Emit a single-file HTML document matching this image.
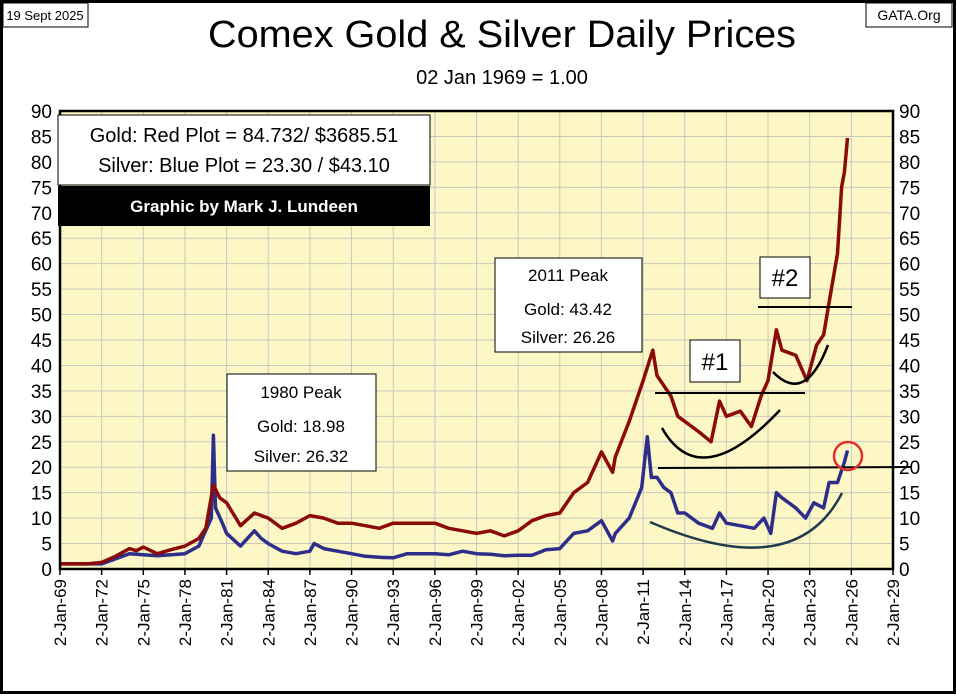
<!DOCTYPE html>
<html><head><meta charset="utf-8"><style>
body{margin:0;background:#fff}
svg text{font-family:"Liberation Sans",sans-serif}
</style></head><body>
<svg width="956" height="694" viewBox="0 0 956 694" xmlns="http://www.w3.org/2000/svg">
<rect x="1.5" y="1.5" width="953" height="691" fill="#fff" stroke="#000" stroke-width="3"/>
<rect x="3" y="3" width="85" height="24" fill="#fff" stroke="#000"/>
<text x="45" y="20" font-size="13" text-anchor="middle" font-family="Liberation Serif">19 Sept 2025</text>
<rect x="866" y="3" width="86" height="24" fill="#fff" stroke="#000"/>
<text x="909" y="20" font-size="14" text-anchor="middle" font-family="Liberation Serif">GATA.Org</text>
<text x="502" y="47" font-size="38" text-anchor="middle" textLength="588" lengthAdjust="spacingAndGlyphs">Comex Gold &amp; Silver Daily Prices</text>
<text x="502" y="84" font-size="20" text-anchor="middle">02 Jan 1969 = 1.00</text>
<rect x="60" y="111" width="833" height="458" fill="#fdf7c6"/>
<g id="grid"></g>
<g id="axes"></g>
<g id="series"></g>
<rect x="60" y="111" width="833" height="458" fill="none" stroke="#000" stroke-width="2.5"/>
<g id="annot">
<rect x="58" y="115" width="372" height="70" fill="#fff" stroke="#000"/>
<text x="244" y="142" font-size="20" text-anchor="middle">Gold: Red Plot =  84.732/ $3685.51</text>
<text x="244" y="172" font-size="20" text-anchor="middle">Silver: Blue Plot = 23.30 / $43.10</text>
<rect x="58" y="186" width="372" height="40" fill="#000"/>
<text x="244" y="212" font-size="17" font-weight="bold" fill="#fff" text-anchor="middle" font-family="Liberation Serif">Graphic by Mark J. Lundeen</text>
<rect x="227" y="374" width="149" height="97" fill="#fff" stroke="#000"/>
<text x="301" y="398" font-size="17" text-anchor="middle">1980 Peak</text>
<text x="301" y="432" font-size="17" text-anchor="middle">Gold:  18.98</text>
<text x="301" y="462" font-size="17" text-anchor="middle">Silver: 26.32</text>
<rect x="495" y="258" width="147" height="94" fill="#fff" stroke="#000"/>
<text x="568" y="281" font-size="17" text-anchor="middle">2011 Peak</text>
<text x="568" y="315" font-size="17" text-anchor="middle">Gold:  43.42</text>
<text x="568" y="343" font-size="17" text-anchor="middle">Silver: 26.26</text>
<rect x="690" y="340" width="50" height="42" fill="#fff" stroke="#000"/>
<text x="715" y="370" font-size="24" text-anchor="middle">#1</text>
<rect x="760" y="257" width="50" height="41" fill="#fff" stroke="#000"/>
<text x="785" y="286" font-size="24" text-anchor="middle">#2</text>
<line x1="655" y1="393" x2="805" y2="393" stroke="#000" stroke-width="2"/>
<line x1="758" y1="307" x2="852" y2="307" stroke="#000" stroke-width="2"/>
<line x1="658" y1="468" x2="912" y2="467" stroke="#000" stroke-width="2"/>
<path d="M662,428 Q700,495 780,410" fill="none" stroke="#000" stroke-width="2.5"/>
<path d="M773,372 Q805,405 828,345" fill="none" stroke="#000" stroke-width="2.5"/>
<path d="M650,522 Q795,585 842,493" fill="none" stroke="#1f3b4d" stroke-width="2.5"/>
<circle cx="848" cy="456" r="14" fill="none" stroke="#e03030" stroke-width="2.5"/>
</g>
</svg>
<script>
const goldYears=[1969,1971,1972,1973,1974,1974.5,1975,1976,1977,1978,1979,1979.5,1980.05,1980.5,1981,1982,1983,1984,1985,1986,1987,1988,1989,1990,1991,1992,1993,1994,1996,1997,1998,1999,2000,2001,2002,2003,2004,2005,2006,2007,2008,2008.8,2009,2010,2011,2011.7,2012,2013,2013.5,2014,2015,2015.9,2016.5,2017,2018,2018.8,2019.5,2020,2020.6,2021,2022,2022.8,2023.5,2024,2024.5,2025,2025.3,2025.5,2025.72];
const goldValues=[1,1,1.3,2.5,4,3.6,4.3,3,3.8,4.5,6,8,16.5,14,13,8.5,11,10,8,9,10.5,10,9,9,8.5,8,9,9,9,8,7.5,7,7.5,6.5,7.5,9.5,10.5,11,15,17,23,19,22,29,37,43,38,34,30,29,27,25,33,30,31,28,34,37,47,43,42,37,44,46,54,62,75,78,84.7];
const silverYears=[1969,1972,1973,1974,1975,1976,1977,1978,1979,1979.9,1980.05,1980.2,1980.7,1981,1982,1983,1983.5,1984,1985,1986,1987,1987.3,1988,1989,1990,1991,1992,1993,1994,1996,1997,1998,1999,2000,2001,2002,2003,2004,2005,2006,2007,2008,2008.8,2009,2010,2010.9,2011.3,2011.6,2012,2012.5,2013,2013.5,2014,2015,2016,2016.5,2017,2018,2019,2019.7,2020.2,2020.6,2021,2022,2022.7,2023.3,2024,2024.4,2025,2025.5,2025.72];
const silverValues=[1,1,2,3,2.8,2.6,2.8,3,4.5,10,26.3,12,9,7,4.5,7.5,6,5,3.5,3,3.5,5,4,3.5,3,2.5,2.3,2.2,3,3,2.8,3.5,3,2.9,2.6,2.7,2.7,3.8,4,7,7.5,9.5,5.5,7,10,16,26,18,18,16,15,11,11,9,8,11,9,8.5,8,10,7,15,14,12,10,13,12,17,17,21,23.3];
const yTicks=[0,5,10,15,20,25,30,35,40,45,50,55,60,65,70,75,80,85,90];
const xTickYears=[1969,1972,1975,1978,1981,1984,1987,1990,1993,1996,1999,2002,2005,2008,2011,2014,2017,2020,2023,2026,2029];
const NS='http://www.w3.org/2000/svg';
const X0=60,X1=893,Y0=569,Y1=111;
const xs=y=>X0+(y-1969)/(2029-1969)*(X1-X0);
const ys=v=>Y0-v/90*(Y0-Y1);
function mk(tag,attrs,parent){const e=document.createElementNS(NS,tag);for(const k in attrs)e.setAttribute(k,attrs[k]);document.getElementById(parent).appendChild(e);return e;}
yTicks.forEach(v=>{
  const g=mk('line',{x1:X0,x2:X1,y1:ys(v),y2:ys(v),stroke:'#c8c8c0','stroke-width':1},'grid');
  
  
  const t1=mk('text',{x:X0-8,y:ys(v)+7,'font-size':19,'text-anchor':'end'},'axes');
  t1.textContent=v;
  
  
  const t2=mk('text',{x:X1+6,y:ys(v)+7,'font-size':19,'text-anchor':'start'},'axes');
  t2.textContent=v;
  
  
});
xTickYears.forEach(yr=>{
  const x=xs(yr);
  const g=mk('line',{x1:x,x2:x,y1:Y1,y2:Y0,stroke:'#c8c8c0','stroke-width':1},'grid');
  
  
  const tk=mk('line',{x1:x,x2:x,y1:Y0,y2:Y0+6,stroke:'#000','stroke-width':1.5},'axes');
  
  
  const t=mk('text',{x:0,y:0,'font-size':17,'text-anchor':'end',transform:`translate(${x+6},${Y0+10}) rotate(-90)`,'font-family':'DejaVu Sans Condensed, Liberation Sans, sans-serif'},'axes');
  t.textContent='2-Jan-'+String(yr%100).padStart(2,'0');
  
  
});
function pts(yrs,vals){return yrs.map((y,i)=>xs(y).toFixed(1)+','+ys(vals[i]).toFixed(1)).join(' ');}
const sl=mk('polyline',{points:pts(silverYears,silverValues),fill:'none',stroke:'#2e2e8a','stroke-width':3.5,'stroke-linejoin':'round'},'series');


const gl=mk('polyline',{points:pts(goldYears,goldValues),fill:'none',stroke:'#8b0a0a','stroke-width':3.5,'stroke-linejoin':'round'},'series');


</script>
</body></html>
